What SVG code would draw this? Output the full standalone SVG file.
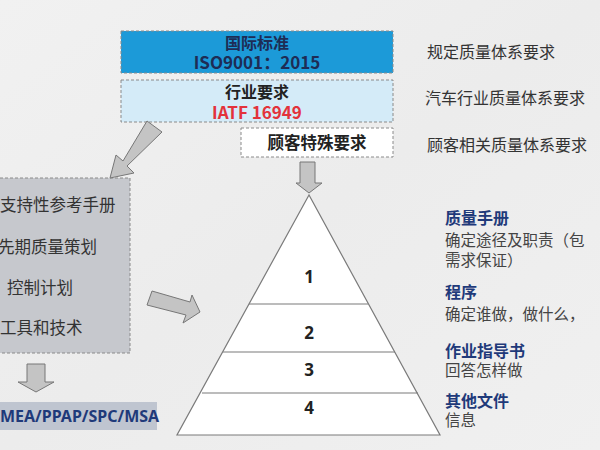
<svg xmlns="http://www.w3.org/2000/svg" width="600" height="450" viewBox="0 0 600 450">
<defs>
<linearGradient id="bg" x1="0" y1="0" x2="1" y2="1">
<stop offset="0" stop-color="#f1f1f1"/>
<stop offset="0.5" stop-color="#ececec"/>
<stop offset="1" stop-color="#f0f0f0"/>
</linearGradient>
<style>
text{font-family:"Noto Sans CJK SC","Noto Sans",sans-serif;}
.box{stroke:#8a8a8a;stroke-width:1;stroke-dasharray:3,2;}
.b{font-weight:bold;font-size:16px;text-anchor:middle;}
.side{font-size:16px;fill:#333;}
.lg{font-size:16.5px;fill:#333;}
.hd{font-size:16px;font-weight:bold;fill:#1f3a7a;}
.bd{font-size:15.5px;fill:#444;}
.arrow{fill:#c4c4c4;stroke:#777;stroke-width:1;}
.num{font-family:"Noto Sans",sans-serif;font-size:17px;font-weight:bold;text-anchor:middle;fill:#222;}
</style>
</defs>
<rect width="600" height="450" fill="url(#bg)"/>

<g id="iso">
<rect class="box" x="121" y="31" width="272" height="42" fill="#1c9ad8"/>
<text class="b" x="257" y="49" fill="#1e2c55">国际标准</text>
<text class="b" x="257" y="69" fill="#1e2c55" style="font-size:17px">ISO9001：2015</text>
</g>
<g id="iatf">
<rect class="box" x="121" y="80" width="272" height="42" fill="#d4ebf8"/>
<text class="b" x="257" y="98" fill="#222">行业要求</text>
<text class="b" x="257" y="119" fill="#e3323b" style="font-size:17px">IATF 16949</text>
</g>
<g id="customer">
<rect class="box" x="241" y="128" width="152" height="29" fill="#ffffff"/>
<text class="b" x="317" y="149" fill="#222" style="font-size:16.5px">顾客特殊要求</text>
</g>

<g id="side-labels">
<text class="side" x="427" y="58">规定质量体系要求</text>
<text class="side" x="425" y="104">汽车行业质量体系要求</text>
<text class="side" x="427" y="151">顾客相关质量体系要求</text>
</g>

<g id="manuals">
<rect class="box" x="-5" y="178" width="135" height="175" fill="#c6c8cd"/>
<text class="lg" x="0" y="211">支持性参考手册</text>
<text class="lg" x="-2" y="253" fill="#e3323b">先期质量策划</text>
<text class="lg" x="7" y="294">控制计划</text>
<text class="lg" x="0" y="334">工具和技术</text>
</g>

<g id="tools">
<rect x="-5" y="402" width="162" height="28" fill="#bfc5d0"/>
<text x="0" y="422" style="font-family:'Noto Sans',sans-serif;font-size:16px;font-weight:bold;fill:#1f3a7a">MEA/PPAP/SPC/MSA</text>
</g>

<g id="pyramid">
<polygon points="309,195 177,435 440,435" fill="#ffffff" stroke="#7a7a7a" stroke-width="1.2"/>
<line x1="249" y1="304" x2="368" y2="304" stroke="#7a7a7a" stroke-width="1.2"/>
<line x1="223" y1="352" x2="395" y2="352" stroke="#7a7a7a" stroke-width="1.2"/>
<line x1="202" y1="393" x2="418" y2="393" stroke="#7a7a7a" stroke-width="1.2"/>
<text class="num" x="309" y="283">1</text>
<text class="num" x="309" y="339">2</text>
<text class="num" x="309" y="376">3</text>
<text class="num" x="309" y="414">4</text>
</g>

<g id="levels">
<text class="hd" x="445" y="224">质量手册</text>
<text class="bd" x="445" y="246">确定途径及职责（包</text>
<text class="bd" x="445" y="266">需求保证）</text>
<text class="hd" x="445" y="298">程序</text>
<text class="bd" x="445" y="320">确定谁做，做什么，</text>
<text class="hd" x="445" y="357">作业指导书</text>
<text class="bd" x="445" y="376">回答怎样做</text>
<text class="hd" x="445" y="407">其他文件</text>
<text class="bd" x="445" y="426">信息</text>
</g>

<g id="connectors">
<polygon class="arrow" points="147,121 162,132 127,166 134,173 110,178 116,155 123,161"/>
<polygon class="arrow" points="27,364 45,364 45,382 54,382 36,392 18,382 27,382"/>
<polygon class="arrow" points="152,291 190,302 192,295 200,312 183,323 186,315 147,305"/>
<polygon class="arrow" points="300,162 315,162 315,183 322,183 309,193 296,183 300,183"/>
</g>
</svg>
